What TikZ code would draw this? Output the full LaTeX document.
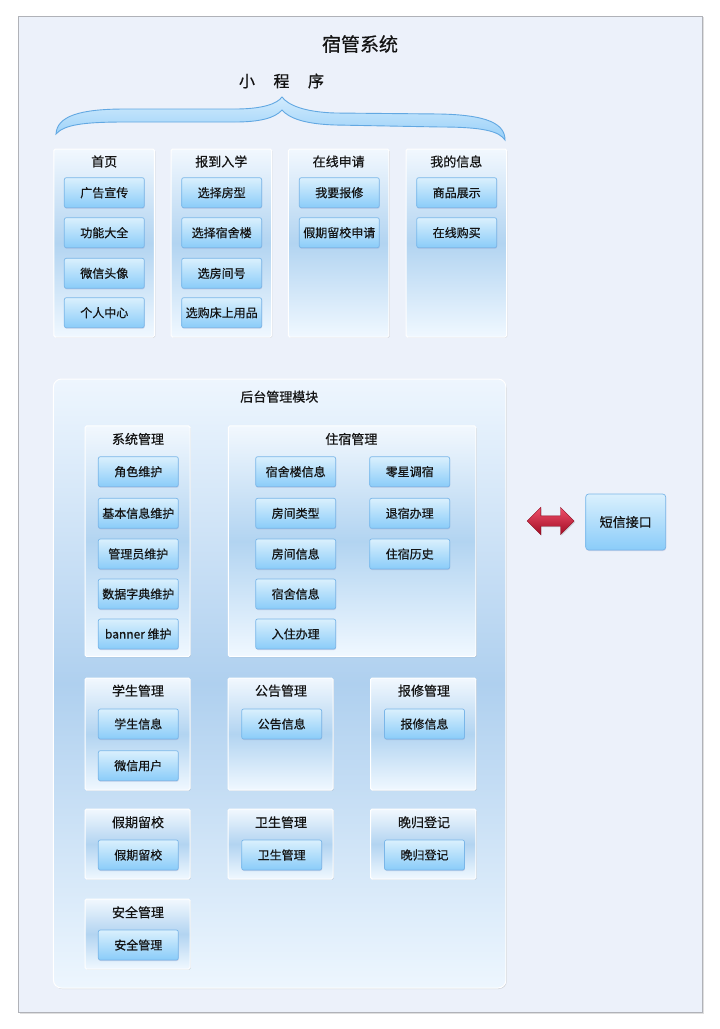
\documentclass[tikz,border=0pt]{standalone}
\usepackage{fontspec}
\setmainfont{Noto Sans CJK SC}[FakeBold=0.6]
\usetikzlibrary{shadows,shapes.arrows,calc}
\definecolor{txt}{HTML}{141414}
\definecolor{framebg}{HTML}{ECF1FA}
\definecolor{frameln}{HTML}{B0B2B8}
\definecolor{grptop}{HTML}{F2F8FE}
\definecolor{grpmid}{HTML}{B2D4F1}
\definecolor{grpbot}{HTML}{F0F8FF}
\definecolor{itemtop}{HTML}{DAF0FD}
\definecolor{itembot}{HTML}{8ACCF9}
\definecolor{itemln}{HTML}{7AB6E8}
\definecolor{bracetop}{HTML}{D2EBFD}
\definecolor{bracebot}{HTML}{96CFF8}
\definecolor{braceln}{HTML}{62A8E2}
\definecolor{arrtop}{HTML}{F0506A}
\definecolor{arrbot}{HTML}{A00C24}
\definecolor{arrln}{HTML}{8A0A1E}
\definecolor{bktop}{HTML}{EEF6FE}
\definecolor{bkmid}{HTML}{AFD0EF}
\definecolor{bkbot}{HTML}{EDF6FE}
\begin{document}
\begin{tikzpicture}[x=1pt,y=-1pt,
  every node/.style={text=txt},
  frame/.style={draw=frameln, line width=0.8pt, fill=framebg,
    drop shadow={opacity=0.25, shadow xshift=1.2pt, shadow yshift=-1.2pt}},
  grpbox/.style={draw=white, line width=1pt, rounded corners=1.5pt,
    top color=grptop, bottom color=grpbot, middle color=grpmid,
    inner sep=0pt,
    drop shadow={opacity=0.22, shadow xshift=0.8pt, shadow yshift=-0.8pt}},
  bkbox/.style={draw=white, line width=1pt, rounded corners=8pt,
    top color=bktop, bottom color=bkbot, middle color=bkmid,
    inner sep=0pt,
    drop shadow={opacity=0.25, shadow xshift=0.8pt, shadow yshift=-1pt}},
  hdr/.style={font=\fontsize{13pt}{15pt}\selectfont, inner sep=0pt},
  itembox/.style={draw=itemln, line width=0.7pt, rounded corners=2pt,
    top color=itemtop, bottom color=itembot,
    minimum width=80pt, minimum height=30pt, inner sep=0pt,
    font=\fontsize{12pt}{14pt}\selectfont,
    drop shadow={opacity=0.35, fill=black!60!blue!40, shadow xshift=0.4pt, shadow yshift=-1pt}},
]
\useasboundingbox (0,0) rectangle (720,1029);
% outer frame
\path[frame] (18.3,16) rectangle (702.3,1012.3);

% titles
\node[font=\fontsize{19pt}{22pt}\selectfont, inner sep=0pt] (title) at (360,44) {宿管系统};
\node[font=\fontsize{16pt}{19pt}\selectfont, inner sep=0pt] (mp) at (281.5,81) {小\hspace{18.5pt}程\hspace{18.5pt}序};

% brace
\path[draw=braceln, line width=0.9pt, top color=bracetop, bottom color=bracebot]
  (56,134) .. controls (57,116) and (80,109) .. (125,109)
  -- (235,109) .. controls (262,109) and (277,104) .. (282,97)
  .. controls (288,105) and (304,112) .. (335,113)
  -- (440,114) .. controls (488,115) and (505,124) .. (505,140)
  .. controls (499,131) and (482,127) .. (440,127)
  -- (335,125) .. controls (304,124) and (289,118) .. (282,110)
  .. controls (275,118) and (260,122) .. (235,122)
  -- (125,122) .. controls (82,122) and (64,125) .. (56,134) -- cycle;

% top groups
\node[grpbox, minimum width=100.5pt, minimum height=188pt] (g1) at (104.2,243) {};
\node[grpbox, minimum width=100.5pt, minimum height=188pt] (g2) at (221.3,243) {};
\node[grpbox, minimum width=100.5pt, minimum height=188pt] (g3) at (338.7,243) {};
\node[grpbox, minimum width=100.5pt, minimum height=188pt] (g4) at (456.3,243) {};
\node[hdr] (h1) at (104.2,161.5) {首页};
\node[hdr] (h2) at (221.3,161.5) {报到入学};
\node[hdr] (h3) at (338.7,161.5) {在线申请};
\node[hdr] (h4) at (456.3,161.5) {我的信息};

\node[itembox] (a1) at (104.3,192.7) {广告宣传};
\node[itembox] (a2) at (104.3,232.7) {功能大全};
\node[itembox] (a3) at (104.3,273.3) {微信头像};
\node[itembox] (a4) at (104.3,312.7) {个人中心};
\node[itembox] (b1) at (221.7,192.7) {选择房型};
\node[itembox] (b2) at (221.7,232.7) {选择宿舍楼};
\node[itembox] (b3) at (221.7,273.3) {选房间号};
\node[itembox] (b4) at (221.7,312.7) {选购床上用品};
\node[itembox] (c1) at (339.3,192.7) {我要报修};
\node[itembox] (c2) at (339.3,232.7) {假期留校申请};
\node[itembox] (d1) at (456.7,192.7) {商品展示};
\node[itembox] (d2) at (456.7,232.7) {在线购买};

% back-end container
\node[bkbox, minimum width=452.5pt, minimum height=609pt] (bk) at (279.7,683.5) {};
\node[hdr] (bkh) at (279.3,396.7) {后台管理模块};

% sub groups
\node[grpbox, minimum width=105pt, minimum height=230.5pt] (sys) at (137.5,541.2) {};
\node[grpbox, minimum width=247.7pt, minimum height=230.5pt] (zs) at (352.1,541.2) {};
\node[grpbox, minimum width=105pt, minimum height=112pt] (stu) at (137.5,734) {};
\node[grpbox, minimum width=105pt, minimum height=112pt] (gg) at (280.5,734) {};
\node[grpbox, minimum width=105.3pt, minimum height=112pt] (bx) at (423.3,734) {};
\node[grpbox, minimum width=105pt, minimum height=70pt] (jq) at (137.5,844) {};
\node[grpbox, minimum width=105pt, minimum height=70pt] (ws) at (280.5,844) {};
\node[grpbox, minimum width=105.3pt, minimum height=70pt] (wg) at (423.3,844) {};
\node[grpbox, minimum width=105pt, minimum height=70pt] (aq) at (137.5,934) {};

\node[hdr] (sysh) at (138,439) {系统管理};
\node[hdr] (zsh) at (351.3,439) {住宿管理};
\node[hdr] (stuh) at (138,690.7) {学生管理};
\node[hdr] (ggh) at (281,690.7) {公告管理};
\node[hdr] (bxh) at (424,690.7) {报修管理};
\node[hdr] (jqh) at (138,822.3) {假期留校};
\node[hdr] (wsh) at (281,822.3) {卫生管理};
\node[hdr] (wgh) at (424,822.3) {晚归登记};
\node[hdr] (aqh) at (138,912.3) {安全管理};

\node[itembox] (s1) at (138.3,471.7) {角色维护};
\node[itembox] (s2) at (138.3,513.3) {基本信息维护};
\node[itembox] (s3) at (138.3,554) {管理员维护};
\node[itembox] (s4) at (138.3,594) {数据字典维护};
\node[itembox] (s5) at (138.3,634) {banner 维护};

\node[itembox] (z1) at (295.7,471.7) {宿舍楼信息};
\node[itembox] (z2) at (295.7,513.3) {房间类型};
\node[itembox] (z3) at (295.7,554) {房间信息};
\node[itembox] (z4) at (295.7,594) {宿舍信息};
\node[itembox] (z5) at (295.7,634) {入住办理};
\node[itembox] (z6) at (409.7,471.7) {零星调宿};
\node[itembox] (z7) at (409.7,513.3) {退宿办理};
\node[itembox] (z8) at (409.7,554) {住宿历史};

\node[itembox] (t1) at (138.3,724) {学生信息};
\node[itembox] (t2) at (138.3,765.7) {微信用户};
\node[itembox] (n1) at (281.7,724) {公告信息};
\node[itembox] (r1) at (424.5,724) {报修信息};
\node[itembox] (j1) at (138.3,855) {假期留校};
\node[itembox] (w1) at (281.7,855) {卫生管理};
\node[itembox] (v1) at (424.5,855) {晚归登记};
\node[itembox] (q1) at (138.3,945) {安全管理};

% SMS interface
\node[itembox, minimum width=80pt, minimum height=56pt, rounded corners=3pt,
  font=\fontsize{13pt}{15pt}\selectfont] (sms) at (625.7,522) {短信接口};

% double arrow
\node[double arrow, draw=arrln, line width=0.4pt, top color=arrtop, bottom color=arrbot,
  minimum height=47pt, minimum width=27pt, inner sep=5pt,
  double arrow head extend=8.5pt,
  drop shadow={opacity=0.3, shadow xshift=0.8pt, shadow yshift=-1pt}] (arr) at (550.7,521) {};
\end{tikzpicture}
\end{document}
